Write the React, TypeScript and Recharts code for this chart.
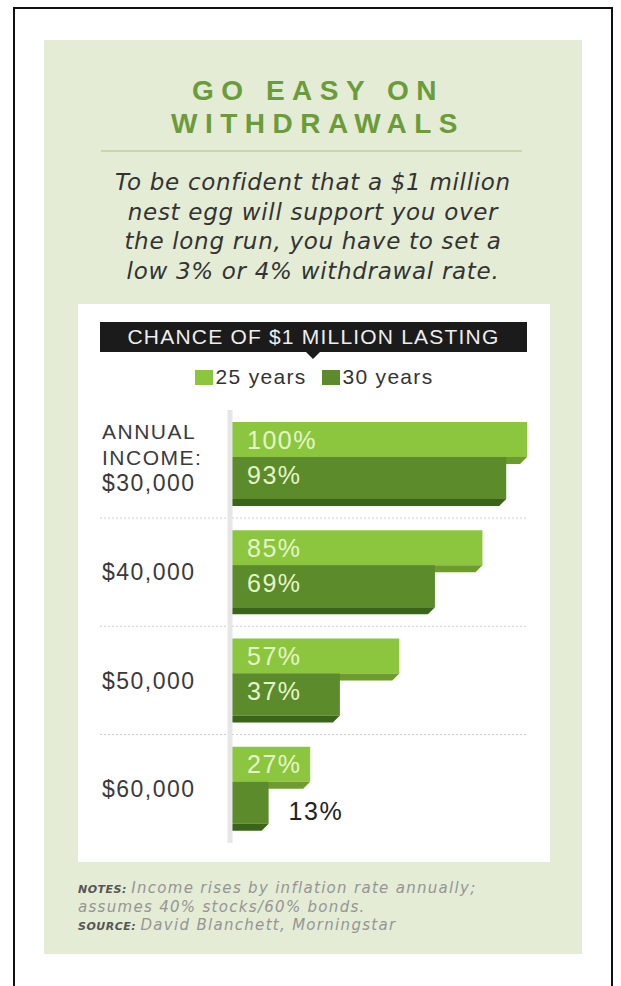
import React from "react";
import { BarChart, Bar, XAxis, YAxis, Legend, LabelList } from "recharts";

const incomes = ["$30,000", "$40,000", "$50,000", "$60,000"];
const firstIncomePrefix = ["ANNUAL", "INCOME:"];
const years25 = [100, 85, 57, 27];
const years30 = [93, 69, 37, 13];
const seriesNames = ["25 years", "30 years"];

const data = incomes.map((income, i) => ({
  income,
  y25: years25[i],
  y30: years30[i],
}));

const LIGHT = "#8cc63f";
const LIGHT_EDGE = "#6c9c2c";
const DARK = "#5b8b2a";
const DARK_EDGE = "#3a6418";
const DEPTH = 7;
const SANS = "'Liberation Sans', Arial, sans-serif";
const DEJAVU = "'DejaVu Sans', 'Liberation Sans', sans-serif";

function LightBar(props: any) {
  const { x, y, width, height } = props;
  const d = DEPTH;
  return (
    <g>
      <rect x={x} y={y} width={width} height={height - d} fill={LIGHT} />
      <polygon
        points={`${x},${y + height - d} ${x + width},${y + height - d} ${x + width - d},${y + height} ${x},${y + height}`}
        fill={LIGHT_EDGE}
      />
    </g>
  );
}

function DarkBar(props: any) {
  const { x, y, width, height, index, background } = props;
  const d = DEPTH;
  const right = background ? background.x + background.width : x + width;
  return (
    <g>
      <rect x={x} y={y - d} width={width} height={height} fill={DARK} />
      <polygon
        points={`${x},${y + height - d} ${x + width},${y + height - d} ${x + width - d},${y + height} ${x},${y + height}`}
        fill={DARK_EDGE}
      />
      {index < incomes.length - 1 && (
        <line
          x1={x - 130}
          x2={right}
          y1={y + height + 12}
          y2={y + height + 12}
          stroke="#cfcfcf"
          strokeDasharray="2 2"
        />
      )}
    </g>
  );
}

const makeLabel = (shift: number) => (props: any) => {
  const { x, y, width, height, value } = props;
  const mid = y + shift + (height - DEPTH) / 2;
  const inside = value >= 20;
  return (
    <text
      x={inside ? x + 17 : x + width + 20}
      y={inside ? mid : mid + 12}
      dominantBaseline="central"
      fill={inside ? "#e4f5c8" : "#222"}
      fontFamily={SANS}
      fontSize={25}
      letterSpacing={1.5}
    >
      {value}%
    </text>
  );
};

function IncomeTick(props: any) {
  const { x, y, payload, index } = props;
  const lines = index === 0 ? [...firstIncomePrefix, payload.value] : [payload.value];
  const baseShift = index === 0 ? 19 : 0;
  return (
    <g>
      {lines.map((t, i) => (
        <text
          key={t}
          x={x - 120}
          y={y + baseShift - (lines.length - 1 - i) * 26}
          dominantBaseline="central"
          textAnchor="start"
          fill="#3a3a3a"
          fontFamily={SANS}
          fontSize={index === 0 && i < 2 ? 21 : 23}
          letterSpacing={1.5}
        >
          {t}
        </text>
      ))}
    </g>
  );
}

function LegendContent() {
  const colors = [LIGHT, DARK];
  return (
    <div
      style={{
        display: "flex",
        justifyContent: "center",
        alignItems: "center",
        height: 24,
        fontFamily: SANS,
        fontSize: 21,
        letterSpacing: 1.3,
        color: "#333",
      }}
    >
      {seriesNames.map((name, i) => (
        <span key={name} style={{ display: "flex", alignItems: "center", marginLeft: i ? 15 : 0 }}>
          <span style={{ width: 18, height: 15, background: colors[i], marginRight: 3 }} />
          {name}
        </span>
      ))}
    </div>
  );
}

const smallCaps = { fontWeight: 700, fontSize: 11, letterSpacing: 0.5, color: "#555" };

const subtitleLines = [
  "To be confident that a $1 million",
  "nest egg will support you over",
  "the long run, you have to set a",
  "low 3% or 4% withdrawal rate.",
];

const noteLines = [
  ["NOTES:", "Income rises by inflation rate annually;"],
  ["", "assumes 40% stocks/60% bonds."],
  ["SOURCE:", "David Blanchett, Morningstar"],
];

export default function App() {
  return (
    <div style={{ position: "absolute", left: 0, top: 0, width: 621, height: 986, background: "#fff", overflow: "hidden" }}>
      <div style={{ position: "absolute", left: 13, top: 7, width: 596, height: 1000, border: "2px solid #111" }} />
      <div style={{ position: "absolute", left: 44, top: 40, width: 538, height: 914, background: "#e4ecd5" }} />

      <div
        style={{
          position: "absolute",
          left: 44,
          width: 538,
          top: 74,
          textAlign: "center",
          fontFamily: SANS,
          fontWeight: 700,
          fontSize: 28,
          lineHeight: "33px",
          letterSpacing: 7.5,
          color: "#6b9b3a",
          paddingLeft: 5,
        }}
      >
        GO EASY ON
        <br />
        WITHDRAWALS
      </div>
      <div style={{ position: "absolute", left: 101, top: 150, width: 421, height: 2, background: "#c6d8a6" }} />

      {subtitleLines.map((line, i) => (
        <div
          key={line}
          style={{
            position: "absolute",
            left: 30,
            width: 566,
            top: 168 + i * 29.7,
            height: 29.7,
            textAlign: "center",
            fontFamily: DEJAVU,
            fontStyle: "italic",
            fontSize: 23,
            lineHeight: "29.7px",
            color: "#333",
            letterSpacing: 0.7,
            whiteSpace: "nowrap",
          }}
        >
          {line}
        </div>
      ))}

      <div style={{ position: "absolute", left: 78, top: 304, width: 472, height: 558, background: "#fff" }} />
      <div
        style={{
          position: "absolute",
          left: 100,
          top: 322,
          width: 427,
          height: 30,
          background: "#1b1b1b",
          color: "#eee",
          fontFamily: SANS,
          fontSize: 21,
          letterSpacing: 1.2,
          lineHeight: "30px",
          textAlign: "center",
        }}
      >
        CHANCE OF $1 MILLION LASTING
      </div>
      <div
        style={{
          position: "absolute",
          left: 306,
          top: 352,
          width: 0,
          height: 0,
          borderLeft: "7px solid transparent",
          borderRight: "7px solid transparent",
          borderTop: "7px solid #1b1b1b",
        }}
      />

      <div style={{ position: "absolute", left: 78, top: 365 }}>
        <BarChart
          width={472}
          height={482}
          data={data}
          layout="vertical"
          margin={{ top: 21, right: 23, bottom: 4, left: 12 }}
          barGap={0}
          barSize={42}
        >
          <Legend
            verticalAlign="top"
            align="center"
            wrapperStyle={{ top: 0, left: 0, width: 472, height: 24 }}
            content={<LegendContent />}
          />
          <XAxis type="number" domain={[0, 100]} hide />
          <YAxis
            type="category"
            dataKey="income"
            width={140}
            axisLine={{ stroke: "#e6e6e6", strokeWidth: 5 }}
            tickLine={false}
            tick={<IncomeTick />}
          />
          <Bar dataKey="y25" name={seriesNames[0]} fill={LIGHT} shape={<LightBar />} isAnimationActive={false}>
            <LabelList dataKey="y25" content={makeLabel(0)} />
          </Bar>
          <Bar dataKey="y30" name={seriesNames[1]} fill={DARK} shape={<DarkBar />} isAnimationActive={false}>
            <LabelList dataKey="y30" content={makeLabel(-DEPTH)} />
          </Bar>
        </BarChart>
      </div>

      {noteLines.map(([head, text], i) => (
        <div
          key={text}
          style={{
            position: "absolute",
            left: 78,
            top: 879 + i * 18.5,
            height: 18.5,
            fontFamily: DEJAVU,
            fontStyle: "italic",
            fontSize: 15,
            lineHeight: "18.5px",
            letterSpacing: 1.3,
            color: "#959595",
            whiteSpace: "nowrap",
          }}
        >
          {head && <span style={smallCaps}>{head} </span>}
          {text}
        </div>
      ))}
    </div>
  );
}
